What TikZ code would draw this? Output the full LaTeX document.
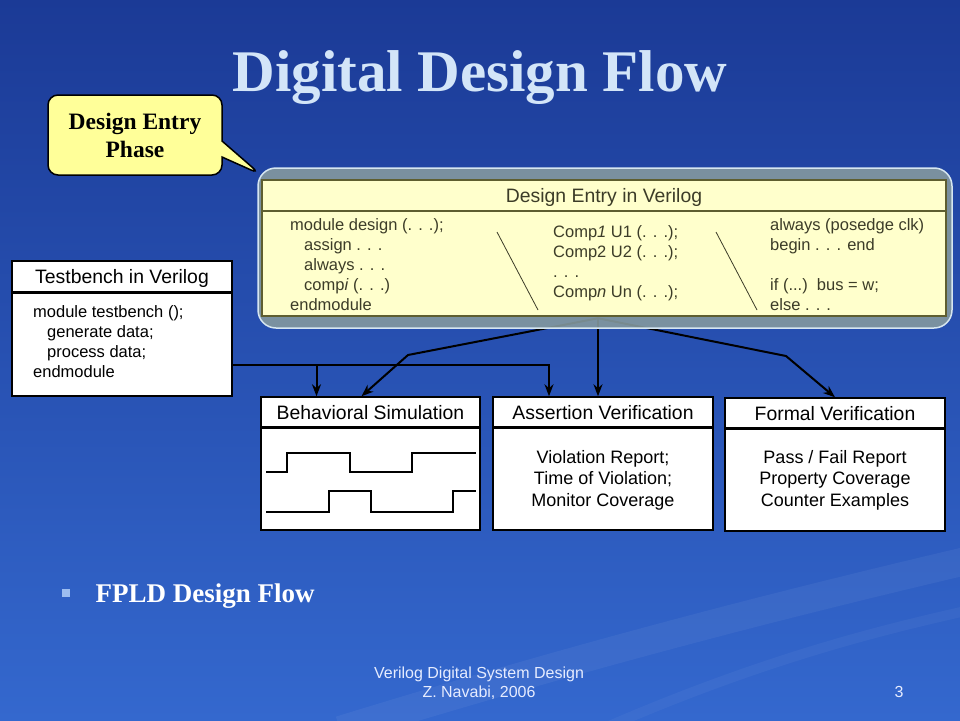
\documentclass[tikz,border=0pt]{standalone}
\usepackage{fontspec}
\setmainfont{Liberation Serif}
\setsansfont{Liberation Sans}
\usetikzlibrary{positioning,calc,arrows.meta,shapes.callouts,backgrounds}

\definecolor{slidetop}{HTML}{1B3A96}
\definecolor{slidebot}{HTML}{3468CE}
\definecolor{titleblue}{HTML}{D3E5F8}
\definecolor{calloutyellow}{HTML}{FFFF99}
\definecolor{entryyellow}{HTML}{FFFFCC}
\definecolor{entryolive}{HTML}{5E5E30}
\definecolor{entrytext}{HTML}{3C3C28}
\definecolor{framegray}{HTML}{84999F}
\definecolor{frameedge}{HTML}{D6E6F0}
\definecolor{bulletblue}{HTML}{9DBDF0}
\definecolor{footblue}{HTML}{E6ECFF}

\tikzset{
  box/.style={draw=black, line width=1.5pt, fill=white, minimum width=220pt, minimum height=133pt, inner sep=0pt},
  boxhead/.style={font=\sffamily\fontsize{19.4}{23}\selectfont},
  boxtext/.style={font=\sffamily\fontsize{16.5}{20}\selectfont, align=left, anchor=north west, inner sep=0pt},
  outtext/.style={font=\sffamily\fontsize{18}{21.5}\selectfont, align=center, inner sep=0pt},
  flow/.style={line width=2pt, ->},
  seprule/.style={line width=2.5pt},
  slidefoot/.style={font=\sffamily\fontsize{16}{19}\selectfont, text=footblue, align=center},
}

\begin{document}
\begin{tikzpicture}[x=1pt, y=-1pt, >={Stealth[length=12pt,width=9pt]}]
  \useasboundingbox (0,0) rectangle (960,720);
  \begin{scope}[on background layer]
    \fill[top color=slidetop, bottom color=slidebot] (0,0) rectangle (960,720);
    \draw[white, opacity=0.05, line width=28pt] (340,730) .. controls (600,650) and (800,600) .. (970,560);
    \draw[white, opacity=0.04, line width=10pt] (600,730) .. controls (760,660) and (880,630) .. (970,610);
  \end{scope}

  % title
  \node (title) [anchor=base, text=titleblue, font=\bfseries\fontsize{59}{60}\selectfont] at (480,91) {Digital Design Flow};

  % callout
  \node (phase) [rectangle callout, callout absolute pointer={(260,174)}, callout pointer width=16pt,
    draw=black, line width=1.5pt, fill=calloutyellow, rounded corners=10pt,
    minimum width=174pt, minimum height=80pt, align=center,
    font=\bfseries\fontsize{23.5}{28}\selectfont] at (135,135) {Design Entry\\Phase};

  % design entry
  \node (frame) [draw=frameedge, line width=1.5pt, fill=framegray, fill opacity=0.9, rounded corners=18pt,
    minimum width=694pt, minimum height=160pt] at (605,248) {};
  \node (entry) [draw=entryolive, line width=2.5pt, fill=entryyellow, minimum width=684pt, minimum height=136pt, inner sep=0pt] at (604,248) {};
  \draw[seprule, entryolive] ($(entry.north west)+(0,32)$) -- ($(entry.north east)+(0,32)$);
  \node (entryhead) [boxhead, text=entrytext] at ($(entry.north)+(0,19)$) {Design Entry in Verilog};
  \node (modcol) [boxtext, text=entrytext] at (290,218) {module design (. . .);\\\hspace*{14pt}assign . . .\\\hspace*{14pt}always . . .\\\hspace*{14pt}comp\textit{i} (. . .)\\endmodule};
  \node (instcol) [boxtext, text=entrytext] at (553,225) {Comp\textit{1} U1 (. . .);\\Comp2 U2 (. . .);\\. . .\\Comp\textit{n} Un (. . .);};
  \node (behcol) [boxtext, text=entrytext] at (770,218) {always (posedge clk)\\begin . . . end\\[20pt]if (...)\ \ bus = w;\\else . . .};
  \draw[entrytext, line width=0.8pt] (497,232) -- (538,310);
  \draw[entrytext, line width=0.8pt] (716,232) -- (757,310);

  % testbench
  \node (tb) [box, minimum height=135pt] at (122,328.5) {};
  \draw[seprule] ($(tb.north west)+(0,32)$) -- ($(tb.north east)+(0,32)$);
  \node (tbhead) [boxhead] at ($(tb.north)+(0,18)$) {Testbench in Verilog};
  \node (tbcode) [boxtext] at (33,305) {module testbench ();\\\hspace*{14pt}generate data;\\\hspace*{14pt}process data;\\endmodule};

  % verification boxes
  \node (behav) [box, minimum width=219pt] at (370.5,463.5) {};
  \node (assrt) [box] at (603,463.5) {};
  \node (formal) [box] at (835,464.5) {};
  \foreach \b/\t in {behav/Behavioral Simulation, assrt/Assertion Verification, formal/Formal Verification} {
    \draw[seprule] ($(\b.north west)+(0,31)$) -- ($(\b.north east)+(0,31)$);
    \node (\b-head) [boxhead] at ($(\b.north)+(0,16)$) {\t};
  }
  \draw[line width=1.8pt] (266,472) -| (287,453) -| (350,472) -| (412,453) -- (476,453);
  \draw[line width=1.8pt] (266,512) -| (329,491) -| (371,512) -| (453,491) -- (476,491);
  \node (assrt-out) [outtext] at (603,480) {Violation Report;\\Time of Violation;\\Monitor Coverage};
  \node (formal-out) [outtext] at (835,480) {Pass / Fail Report\\Property Coverage\\Counter Examples};

  % connectors
  \coordinate (fork) at ($(entry.south)+(-6,1)$);
  \coordinate (bendl) at (408,355);
  \coordinate (bendr) at (786,356);
  \coordinate (tbout) at ($(tb.east)+(0,36.5)$);
  \coordinate (behavin) at ($(behav.north)+(-54,0)$);
  \coordinate (assrtin) at ($(assrt.north)+(-54,0)$);
  \begin{scope}[on background layer]
    \draw[flow] (fork) -- (bendl) -- ($(behav.north)+(-9,0)$);
    \draw[flow] (fork) -- (fork |- assrt.north);
    \draw[flow] (fork) -- (bendr) -- (formal.north);
    \draw[flow] (tbout) -| (assrtin);
    \draw[flow] (behavin |- tbout) -- (behavin);
  \end{scope}

  % bullet
  \node (bullet) [fill=bulletblue, minimum size=8pt, inner sep=0pt] at (66,593) {};
  \node (fpld) [anchor=west, text=white, font=\bfseries\fontsize{27}{30}\selectfont] at (92,596) {FPLD Design Flow};

  % footer
  \node (footer) [slidefoot] at (479,683) {Verilog Digital System Design\\Z. Navabi, 2006};
  \node (pagenum) [slidefoot] at (899,692) {3};
\end{tikzpicture}
\end{document}
